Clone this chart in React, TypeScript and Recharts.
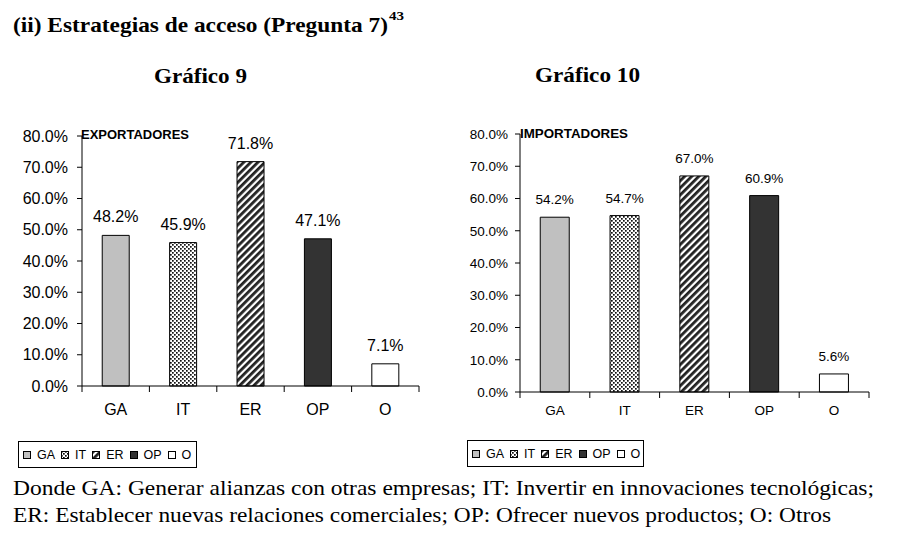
import React from "react";
import { Bar, BarChart, Cell, LabelList, XAxis, YAxis } from "recharts";

const categories = ["GA", "IT", "ER", "OP", "O"];
const exportadores = [48.2, 45.9, 71.8, 47.1, 7.1];
const importadores = [54.2, 54.7, 67.0, 60.9, 5.6];
const yTicks = [0, 10, 20, 30, 40, 50, 60, 70, 80];

const SANS = "'Liberation Sans', Arial, sans-serif";
const SERIF = "'Liberation Serif', 'Times New Roman', serif";

const pct = (v: number) => `${Number(v).toFixed(1)}%`;

function fillsFor(prefix: string) {
  return ["#c0c0c0", `url(#${prefix}-dots)`, `url(#${prefix}-stripes)`, "#333333", "#ffffff"];
}

function Patterns({ prefix }: { prefix: string }) {
  return (
    <defs>
      <pattern id={`${prefix}-dots`} width={4} height={4} patternUnits="userSpaceOnUse">
        <rect width={4} height={4} fill="#fff" />
        <rect x={0} y={0} width={1.7} height={1.7} fill="#111" />
        <rect x={2} y={2} width={1.7} height={1.7} fill="#111" />
      </pattern>
      <pattern
        id={`${prefix}-stripes`}
        width={5}
        height={5}
        patternUnits="userSpaceOnUse"
        patternTransform="rotate(45)"
      >
        <rect width={5} height={5} fill="#fff" />
        <rect x={0} y={0} width={2.8} height={5} fill="#222" />
      </pattern>
    </defs>
  );
}

type ChartProps = {
  prefix: string;
  values: number[];
  width: number;
  height: number;
  margin: { top: number; right: number; bottom: number; left: number };
  yWidth: number;
  tickMargin: number;
  fontSize: number;
  labelDy: number;
  gap: string;
};

function Chart({ prefix, values, width, height, margin, yWidth, tickMargin, fontSize, labelDy, gap }: ChartProps) {
  const data = categories.map((c, i) => ({ cat: c, value: values[i] }));
  const fills = fillsFor(prefix);
  const band = (width - margin.left - margin.right - yWidth) / categories.length;

  const xTick = (props: any) => {
    const { x, y, payload, index } = props;
    return (
      <g>
        <line x1={x - band / 2} x2={x - band / 2} y1={y} y2={y + 6} stroke="#000" />
        {index === categories.length - 1 && (
          <line x1={x + band / 2} x2={x + band / 2} y1={y} y2={y + 6} stroke="#000" />
        )}
        <text x={x} y={y + labelDy} textAnchor="middle" fontSize={fontSize} fontFamily={SANS} fill="#000">
          {payload.value}
        </text>
      </g>
    );
  };

  return (
    <BarChart width={width} height={height} data={data} margin={margin} barCategoryGap={gap}>
      <Patterns prefix={prefix} />
      <XAxis
        dataKey="cat"
        interval={0}
        height={30}
        tickSize={0}
        tickMargin={0}
        tickLine={false}
        axisLine={{ stroke: "#000" }}
        tick={xTick}
      />
      <YAxis
        width={yWidth}
        domain={[0, 80]}
        ticks={yTicks}
        tickFormatter={pct}
        tickSize={5}
        tickMargin={tickMargin}
        axisLine={{ stroke: "#000" }}
        tickLine={{ stroke: "#000" }}
        tick={{ fill: "#000", fontSize, fontFamily: SANS }}
      />
      <Bar dataKey="value" stroke="#000" strokeWidth={1} isAnimationActive={false}>
        {data.map((d, i) => (
          <Cell key={d.cat} fill={fills[i]} />
        ))}
        <LabelList
          dataKey="value"
          position="top"
          offset={13}
          formatter={(v: any) => pct(v)}
          fill="#000"
          fontSize={fontSize}
          fontFamily={SANS}
        />
      </Bar>
    </BarChart>
  );
}

function LegendBox({ prefix, left, top, width }: { prefix: string; left: number; top: number; width: number }) {
  const fills = fillsFor(prefix);
  return (
    <div
      style={{
        position: "absolute",
        left,
        top,
        width,
        height: 27,
        boxSizing: "border-box",
        border: "1px solid #000",
        display: "flex",
        alignItems: "center",
        paddingLeft: 4,
        fontFamily: SANS,
        fontSize: 12.5,
        color: "#000",
      }}
    >
      {categories.map((c, i) => (
        <span key={c} style={{ display: "flex", alignItems: "center", marginRight: 6 }}>
          <svg width={8} height={8} style={{ marginRight: 6 }}>
            <rect x={0.5} y={0.5} width={7} height={7} fill={fills[i]} stroke="#000" />
          </svg>
          {c}
        </span>
      ))}
    </div>
  );
}

export default function App() {
  return (
    <div style={{ position: "absolute", left: 0, top: 0, width: 904, height: 546, background: "#fff" }}>
      <div style={{ position: "absolute", left: 0, top: 100 }}>
        <Chart
          prefix="exp"
          values={exportadores}
          width={450}
          height={370}
          margin={{ top: 36, right: 31, bottom: 54, left: 0 }}
          yWidth={82}
          tickMargin={9}
          fontSize={16}
          labelDy={29}
          gap="30%"
        />
      </div>
      <div style={{ position: "absolute", left: 455, top: 100 }}>
        <Chart
          prefix="imp"
          values={importadores}
          width={449}
          height={370}
          margin={{ top: 34, right: 35, bottom: 48, left: 0 }}
          yWidth={65}
          tickMargin={7}
          fontSize={13.5}
          labelDy={23}
          gap="29%"
        />
      </div>
      <LegendBox prefix="exp" left={18} top={441} width={179} />
      <LegendBox prefix="imp" left={467} top={440} width={177} />
      <svg width={904} height={546} style={{ position: "absolute", left: 0, top: 0, pointerEvents: "none" }}>
        <text x={13} y={32} fontFamily={SERIF} fontWeight="bold" fontSize={21} textLength={375} lengthAdjust="spacingAndGlyphs">
          (ii) Estrategias de acceso (Pregunta 7)
        </text>
        <text x={389} y={20} fontFamily={SERIF} fontWeight="bold" fontSize={13} textLength={15} lengthAdjust="spacingAndGlyphs">
          43
        </text>
        <text x={154} y={83} fontFamily={SERIF} fontWeight="bold" fontSize={21} textLength={93} lengthAdjust="spacingAndGlyphs">
          Gráfico 9
        </text>
        <text x={535} y={82} fontFamily={SERIF} fontWeight="bold" fontSize={21} textLength={105} lengthAdjust="spacingAndGlyphs">
          Gráfico 10
        </text>
        <text x={81} y={139} fontFamily={SANS} fontWeight="bold" fontSize={12} textLength={108} lengthAdjust="spacingAndGlyphs">
          EXPORTADORES
        </text>
        <text x={520} y={138} fontFamily={SANS} fontWeight="bold" fontSize={12} textLength={108} lengthAdjust="spacingAndGlyphs">
          IMPORTADORES
        </text>
        <text x={13} y={495} fontFamily={SERIF} fontSize={21} textLength={861} lengthAdjust="spacingAndGlyphs">
          Donde GA: Generar alianzas con otras empresas; IT: Invertir en innovaciones tecnológicas;
        </text>
        <text x={13} y={522} fontFamily={SERIF} fontSize={21} textLength={818} lengthAdjust="spacingAndGlyphs">
          ER: Establecer nuevas relaciones comerciales; OP: Ofrecer nuevos productos; O: Otros
        </text>
      </svg>
    </div>
  );
}
